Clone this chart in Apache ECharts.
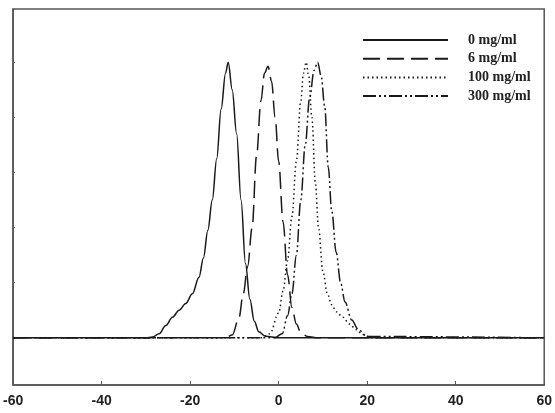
<!DOCTYPE html>
<html>
<head>
<meta charset="utf-8">
<script src="https://cdn.jsdelivr.net/npm/echarts@6/dist/echarts.min.js"></script>
<style>
  html, body { margin: 0; padding: 0; background: #fff; }
  #chart { width: 555px; height: 413px; }
</style>
</head>
<body>
<div id="chart"></div>
<script>
// series names
const names = ["0 mg/ml", "6 mg/ml", "100 mg/ml", "300 mg/ml"];

// 0 mg/ml (solid)
const x0 = [-60, -30, -28.5, -27, -25.5, -24, -22.5, -21, -19.5, -18, -17, -16, -15, -14, -13, -12, -11.4, -10.5, -9.5, -8.5, -7.5, -6.5, -5.5, -4.5, -3, 0, 60];
const y0 = [0, 0, 0.003, 0.015, 0.045, 0.075, 0.1, 0.125, 0.16, 0.22, 0.29, 0.39, 0.5, 0.65, 0.83, 0.96, 1.0, 0.9, 0.74, 0.5, 0.27, 0.14, 0.06, 0.022, 0.006, 0, 0];

// 6 mg/ml (dashed)
const x6 = [-60, -12, -10.5, -9, -8, -7, -6, -5, -4, -3.2, -2.4, -1.6, -0.8, 0, 1, 2, 3, 4, 5, 6.5, 9, 60];
const y6 = [0, 0, 0.01, 0.07, 0.16, 0.26, 0.4, 0.66, 0.86, 0.96, 0.985, 0.93, 0.8, 0.64, 0.42, 0.23, 0.11, 0.05, 0.02, 0.005, 0, 0];

// 100 mg/ml (dotted)
const x100 = [-60, -4, -2, 0, 1, 2, 3, 4, 5, 5.6, 6.2, 6.8, 7.5, 8.3, 9, 10, 11, 12, 13, 14.5, 16, 17.5, 19, 21, 60];
const y100 = [0, 0, 0.015, 0.09, 0.17, 0.28, 0.44, 0.64, 0.86, 0.96, 1.0, 0.95, 0.8, 0.56, 0.4, 0.24, 0.16, 0.12, 0.095, 0.075, 0.05, 0.03, 0.012, 0, 0];

// 300 mg/ml (dash-dot)
const x300 = [-60, -1, 0.8, 2, 3, 4, 5, 6, 7, 8, 8.8, 9.6, 10.4, 11.2, 12, 13, 14, 15, 16.5, 18, 20, 60];
const y300 = [0, 0, 0.015, 0.08, 0.16, 0.3, 0.5, 0.7, 0.87, 0.97, 1.0, 0.95, 0.84, 0.62, 0.46, 0.31, 0.2, 0.13, 0.065, 0.03, 0.005, 0];

// axis ticks
const xTicks = [-60, -40, -20, 0, 20, 40, 60];
const yTicks = [0, 0.2, 0.4, 0.6, 0.8, 1.0];

const zip = (xs, ys) => xs.map((x, i) => [x, ys[i]]);
const dashes = ["solid", [17, 7], [1.5, 3], [13, 3, 2, 3, 2, 3]];
const allData = [zip(x0, y0), zip(x6, y6), zip(x100, y100), zip(x300, y300)];

const chart = echarts.init(document.getElementById("chart"));
chart.setOption({
  animation: false,
  backgroundColor: "#fff",
  grid: {
    left: 10, right: 6, top: 9, bottom: 28,
    show: true, borderColor: "#555", borderWidth: 1.5
  },
  legend: {
    orient: "vertical",
    left: 357,
    top: 28,
    itemWidth: 85,
    itemHeight: 14,
    itemGap: 4.7,
    data: names,
    itemStyle: { color: "transparent", borderWidth: 0, opacity: 0 },
    textStyle: {
      fontFamily: "Liberation Serif",
      fontWeight: "bold",
      fontSize: 14,
      color: "#222",
      padding: [0, 0, 0, 15]
    }
  },
  xAxis: {
    type: "value",
    min: -60, max: 60, interval: 20,
    splitLine: { show: false },
    axisLine: { onZero: false, lineStyle: { color: "#555", width: 1.5 } },
    axisTick: { inside: true, length: 4, lineStyle: { color: "#555" } },
    axisLabel: {
      margin: 9,
      fontFamily: "Liberation Sans",
      fontWeight: "bold",
      fontSize: 14,
      color: "#222",
      customValues: xTicks
    }
  },
  yAxis: {
    type: "value",
    min: -0.171, max: 1.193,
    splitLine: { show: false },
    axisLine: { show: true, onZero: false, lineStyle: { color: "#555", width: 1.5 } },
    axisTick: { show: true, inside: true, length: 2, lineStyle: { color: "#777" }, customValues: yTicks },
    axisLabel: { show: false }
  },
  series: names.map((n, i) => ({
    name: n,
    type: "line",
    data: allData[i],
    symbol: "none",
    smooth: 0.35,
    smoothMonotone: "x",
    z: 4 - i,
    lineStyle: { color: "#1a1a1a", width: 1.5, type: dashes[i] },
    itemStyle: { color: "#1a1a1a" }
  }))
});
</script>
</body>
</html>
